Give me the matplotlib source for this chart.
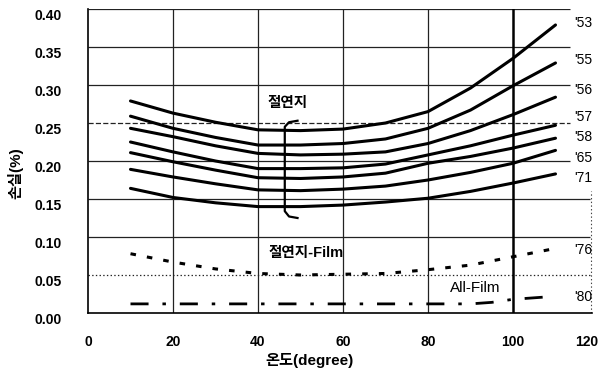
import matplotlib
matplotlib.use('Agg')
import matplotlib.pyplot as plt
from matplotlib.transforms import ScaledTranslation

plt.rcParams['font.family'] = ['Liberation Sans', 'Noto Sans CJK KR', 'DejaVu Sans']
plt.rcParams['lines.scale_dashes'] = False

# 온도 (degree)
temps = [10, 20, 30, 40, 50, 60, 70, 80, 90, 100, 110]

# 절연지 (연도별)
loss_53 = [0.279, 0.263, 0.251, 0.241, 0.240, 0.242, 0.250, 0.265, 0.296, 0.335, 0.379]
loss_55 = [0.259, 0.243, 0.231, 0.221, 0.221, 0.223, 0.229, 0.243, 0.267, 0.299, 0.329]
loss_56 = [0.243, 0.232, 0.220, 0.210, 0.208, 0.209, 0.212, 0.223, 0.240, 0.261, 0.284]
loss_57 = [0.225, 0.212, 0.200, 0.190, 0.190, 0.191, 0.196, 0.208, 0.220, 0.234, 0.247]
loss_58 = [0.211, 0.199, 0.188, 0.178, 0.177, 0.179, 0.184, 0.197, 0.206, 0.217, 0.230]
loss_65 = [0.189, 0.179, 0.170, 0.162, 0.161, 0.163, 0.167, 0.175, 0.185, 0.197, 0.214]
loss_71 = [0.164, 0.152, 0.145, 0.140, 0.140, 0.142, 0.146, 0.151, 0.160, 0.171, 0.183]

# 절연지-Film, All-Film
loss_76 = [0.078, 0.067, 0.058, 0.052, 0.050, 0.051, 0.052, 0.057, 0.063, 0.074, 0.085]
temps_80 = [10, 20, 30, 40, 50, 60, 70, 80, 90, 95, 100, 110]
loss_80 = [0.012, 0.012, 0.012, 0.012, 0.012, 0.012, 0.012, 0.012, 0.012, 0.014, 0.018, 0.022]

paper_curves = [loss_53, loss_55, loss_56, loss_57, loss_58, loss_65, loss_71]
year_labels = ["'53", "'55", "'56", "'57", "'58", "'65", "'71", "'76", "'80"]
year_label_y = [0.382, 0.333, 0.293, 0.258, 0.232, 0.204, 0.177, 0.083, 0.021]

xticks = [0, 20, 40, 60, 80, 100, 120]
yticks = [0.00, 0.05, 0.10, 0.15, 0.20, 0.25, 0.30, 0.35, 0.40]

fig = plt.figure(figsize=(6.01, 3.72), dpi=100)
ax = fig.add_axes([88 / 601, 59 / 372, 510 / 601, 304 / 372])
ax.set_xlim(0, 120)
ax.set_ylim(0, 0.40)

# 격자 (스캔 원본처럼 오른쪽 끝이 고르지 않음)
for y in yticks[1:]:
    x_end = 118 if y <= 0.15 else 113.5
    ls = ':' if y == 0.05 else ('--' if y == 0.25 else '-')
    ax.hlines(y, 0, x_end, color='#222222', lw=0.9, ls=ls, zorder=1)
for x in [20, 40, 60, 80]:
    ax.axvline(x, color='#222222', lw=0.9, zorder=1)
ax.axvline(100, color='black', lw=1.8, zorder=1)
ax.vlines(118.3, 0, 0.16, color='#444444', lw=0.8, ls=':', zorder=1)

for s in ['top', 'right']:
    ax.spines[s].set_visible(False)
ax.spines['bottom'].set_bounds(0, 118.5)
ax.spines['left'].set_linewidth(1.2)
ax.spines['bottom'].set_linewidth(1.2)

for curve in paper_curves:
    ax.plot(temps, curve, color='black', lw=2.2, solid_capstyle='round', zorder=3)
ax.plot(temps, loss_76, color='black', lw=2.2, dashes=(4, 8), zorder=3)
ax.plot(temps_80, loss_80, color='black', lw=2.0, dashes=(13, 10, 2.5, 10), zorder=3)

for lab, y in zip(year_labels, year_label_y):
    ax.text(114.3, y, lab, fontsize=10, ha='left', va='center')

# 절연지 묶음 괄호
ax.plot([49.3, 47.3, 46.3, 46.3, 47.3, 49.3], [0.253, 0.251, 0.245, 0.134, 0.127, 0.125],
        color='black', lw=1.6, zorder=4)
ax.text(47.0, 0.276, '절연지', fontsize=10.5, ha='center', va='center', fontweight='bold')
ax.text(51.3, 0.079, '절연지-Film', fontsize=10.5, ha='center', va='center', fontweight='bold')
ax.text(91.0, 0.033, 'All-Film', fontsize=11, ha='center', va='center')

ax.set_xticks(xticks)
ax.set_xticklabels([str(t) for t in xticks], fontsize=10, fontweight='bold')
ax.set_yticks(yticks)
ax.set_yticklabels(['%.2f' % t for t in yticks], fontsize=10, fontweight='bold')
ax.tick_params(axis='both', length=0)
ax.tick_params(axis='x', pad=16)
ax.tick_params(axis='y', pad=19)
ax.xaxis.get_major_ticks()[-1].label1.set_horizontalalignment('right')
shift = ScaledTranslation(0, -6 / 100, fig.dpi_scale_trans)
for lab in ax.get_yticklabels():
    lab.set_transform(lab.get_transform() + shift)

ax.set_xlabel('온도(degree)', fontsize=11, fontweight='bold')
ax.xaxis.set_label_coords((310 - 88) / 510, (313 - 360) / 304)
ax.xaxis.label.set_verticalalignment('center')
ax.set_ylabel('손실(%)', fontsize=11, fontweight='bold')
ax.yaxis.set_label_coords((15 - 88) / 510, (313 - 173) / 304)
ax.yaxis.label.set_verticalalignment('center')

fig.savefig('out.png', dpi=100)
